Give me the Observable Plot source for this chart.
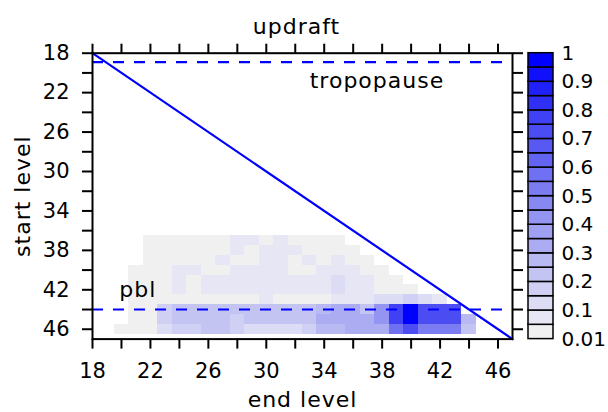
<!DOCTYPE html>
<html><head><meta charset="utf-8">
<script src="https://cdn.jsdelivr.net/npm/d3@7"></script>
<script src="https://cdn.jsdelivr.net/npm/@observablehq/plot@0.6"></script>
<style>
body{margin:0;background:#fff;}
#chart{position:relative;width:608px;height:412px;font-family:"DejaVu Sans",sans-serif;}
#chart svg{position:absolute;top:0;}
</style></head><body><div id="chart"></div>
<script>
// end level (columns) and start level (rows)
const endLevels = [20,21,22,23,24,25,26,27,28,29,30,31,32,33,34,35,36,37,38,39,40,41,42,43,44];
const startLevels = [37,38,39,40,41,42,43,44,45,46];
// fraction values per start level, one entry per end level above (0 = empty)
const row37 = [0,0,.03,.03,.03,.03,.03,.03,.07,.07,.03,.07,.03,.03,.03,.03,0,0,0,0,0,0,0,0,0];
const row38 = [0,0,.03,.03,.03,.03,.03,.03,.07,.03,.07,.07,.07,.03,.03,.03,.03,0,0,0,0,0,0,0,0];
const row39 = [0,0,.03,.03,.03,.03,.03,.07,.03,.03,.07,.07,.03,.07,.03,.07,.03,.03,0,0,0,0,0,0,0];
const row40 = [0,.03,.03,.03,.07,.07,.03,.03,.07,.07,.07,.07,.03,.03,.07,.07,.07,.03,.03,0,0,0,0,0,0];
const row41 = [0,.03,.03,.03,.07,.03,.07,.07,.07,.07,.07,.07,.07,.07,.07,.12,.07,.07,.03,.03,0,0,0,0,0];
const row42 = [0,.03,.03,.03,.07,.03,.07,.07,.07,.07,.07,.07,.07,.07,.07,.12,.07,.07,.03,.03,.03,0,0,0,0];
const row43 = [0,.03,.03,.03,.03,.03,.03,.03,.03,.03,.07,.03,.03,.03,.03,.07,.07,.07,.12,.12,.17,.12,.07,0,0];
const row44 = [0,.03,.03,.18,.22,.2,.2,.2,.2,.2,.2,.2,.2,.2,.26,.3,.3,.22,.42,.78,.97,.73,.73,.7,0];
const row45 = [0,.03,.03,.18,.23,.23,.2,.2,.18,.23,.23,.23,.23,.23,.3,.33,.32,.32,.43,.78,.97,.72,.72,.72,.28];
const row46 = [.03,.03,.03,.12,.18,.18,.22,.22,.18,.12,.12,.12,.12,.18,.27,.27,.3,.3,.33,.57,.73,.53,.53,.53,.23];
const rows = [row37,row38,row39,row40,row41,row42,row43,row44,row45,row46];

const levelDomain = [18,47];
const levelTicks = [18,20,22,24,26,28,30,32,34,36,38,40,42,44,46];
const labelTicks = [18,22,26,30,34,38,42,46];
const diagonal = [18,47];
const refLevels = [18.9,44];
const refLabels = ["tropopause","pbl"];
const refLabelEnd = [33,19.85];
const refLabelShift = [18.6,-20];

const colorBreaks = [0.01,0.05,0.1,0.15,0.2,0.25,0.3,0.35,0.4,0.45,0.5,0.55,0.6,0.65,0.7,0.75,0.8,0.85,0.9,0.95,1];
const colorbarLabels = [0.01,0.1,0.2,0.3,0.4,0.5,0.6,0.7,0.8,0.9,1];
const boxColors = ["#f0f0f0","#e6e6f5","#dcdcf5","#d0d0f5","#c4c4f3","#b8b8f2","#acacf2","#a0a0f2","#9494f2","#8888f2",
  "#7c7cf2","#7070f2","#6464f3","#5858f3","#4c4cf3","#4040f5","#3030f5","#2020f8","#1010fa","#0000ff"];

const cells = [];
startLevels.forEach((s,i) => rows[i].forEach((v,j) => { if (v >= 0.01) cells.push({start:s, end:endLevels[j], value:v}); }));
const refs = refLevels.map((l,i) => ({level:l, label:refLabels[i], end:refLabelEnd[i], shift:refLabelShift[i]}));

const font = {fontFamily:"DejaVu Sans", fontSize:"21px", color:"black", background:"transparent"};
const blue = "#0000ff";

const main = Plot.plot({
  width:608, height:412,
  marginLeft:92, marginRight:96, marginTop:52.7, marginBottom:73.4,
  x:{domain:levelDomain},
  y:{domain:levelDomain, reverse:true},
  color:{type:"threshold", domain:colorBreaks.slice(1,-1), range:boxColors},
  style:font,
  marks:[
    Plot.rect(cells, {x1:d=>d.end-0.5, x2:d=>d.end+0.5, y1:d=>d.start-0.5, y2:d=>d.start+0.5, fill:"value", shapeRendering:"crispEdges"}),
    Plot.line(diagonal, {x:d=>d, y:d=>d, stroke:blue, strokeWidth:2.2}),
    Plot.ruleY(refs, {y:"level", stroke:blue, strokeWidth:2.2, strokeDasharray:"11,10"}),
    Plot.text(refs, {x:"end", y:"level", text:"label", textAnchor:"start", lineAnchor:"middle", fontSize:22}),
    Plot.axisX({ticks:levelTicks, tickFormat:d=>labelTicks.includes(d)?String(d):"", tickSize:10, tickPadding:14, strokeWidth:2, fontSize:21, label:null}),
    Plot.axisX({anchor:"top", ticks:levelTicks, tickFormat:()=>"", tickSize:10, strokeWidth:2, label:null}),
    Plot.axisY({ticks:levelTicks, tickFormat:d=>labelTicks.includes(d)?String(d):"", tickSize:10, tickPadding:13, strokeWidth:2, fontSize:21, label:null}),
    Plot.axisY({anchor:"right", ticks:levelTicks, tickFormat:()=>"", tickSize:10, strokeWidth:2, label:null}),
    Plot.frame({stroke:"black", strokeWidth:2}),
    Plot.text(["updraft"], {text:d=>d, frameAnchor:"top", textAnchor:"middle", lineAnchor:"middle", dy:-26, dx:-6, fontSize:22}),
    Plot.text(["end level"], {text:d=>d, frameAnchor:"bottom", textAnchor:"middle", lineAnchor:"middle", dy:60.5, fontSize:22}),
    Plot.text(["start level"], {text:d=>d, frameAnchor:"left", textAnchor:"middle", lineAnchor:"middle", rotate:-90, dx:-70, fontSize:22})
  ]
});

const boxes = boxColors.map((c,i) => ({i, c}));
const bar = Plot.plot({
  width:88, height:412,
  marginLeft:8, marginRight:55, marginTop:52.7, marginBottom:73.4,
  x:{domain:["bar"], padding:0, axis:null},
  y:{domain:[0,20]},
  style:font,
  marks:[
    Plot.barY(boxes, {x:()=>"bar", y1:"i", y2:d=>d.i+1, fill:d=>d.c, stroke:"black", strokeWidth:1.5}),
    Plot.axisY({anchor:"right", ticks:colorbarLabels.map(v=>colorBreaks.indexOf(v)), tickFormat:i=>String(colorBreaks[i]), tickSize:0, tickPadding:8, fontSize:20, label:null})
  ]
});

const chart = document.getElementById("chart");
main.style.left = "0px";
bar.style.left = "520px";
chart.appendChild(main);
chart.appendChild(bar);

// word labels: slight letter spacing; reference-line labels sit above / below their dashed lines
const words = ["updraft","end level","start level","tropopause","pbl"];
d3.select(main).selectAll("text").filter(function(){ return words.includes(this.textContent); }).attr("letter-spacing", 1);
refs.forEach(r => {
  d3.select(main).selectAll("text").filter(function(){ return this.textContent === r.label; })
    .attr("transform", function(){ return (this.getAttribute("transform")||"") + ` translate(0,${r.shift})`; });
});
</script></body></html>
